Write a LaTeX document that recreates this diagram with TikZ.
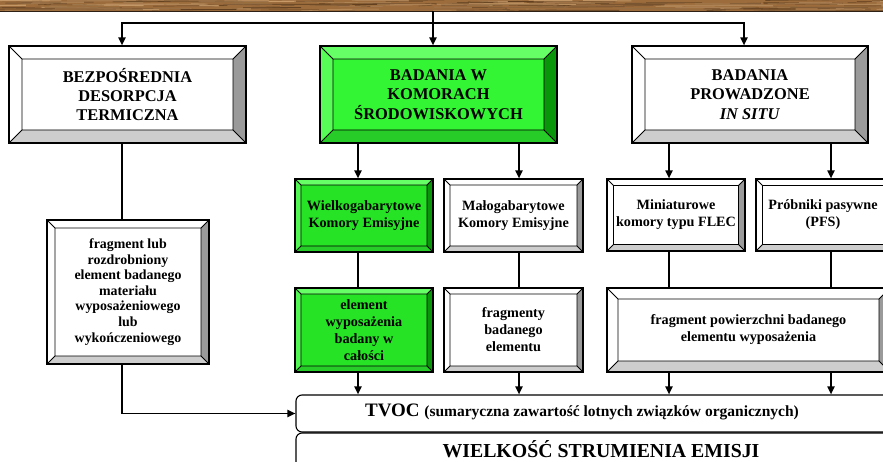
\documentclass[tikz,border=0pt]{standalone}
\usepackage{fontspec}
\setmainfont{Liberation Serif}
\usetikzlibrary{arrows.meta,calc}

\definecolor{woodbase}{HTML}{9C6C3C}
\definecolor{wooddark}{HTML}{5E3C1C}
\definecolor{woodlight}{HTML}{C99C6A}
\definecolor{woodedge}{HTML}{2E2014}
\definecolor{bevgray}{HTML}{9A9A9A}
\definecolor{bevlgray}{HTML}{CDCDCD}
\definecolor{gface}{HTML}{33F533}
\definecolor{gface2}{HTML}{26E326}
\definecolor{glight}{HTML}{66FF66}
\definecolor{gdark}{HTML}{0A960A}
\definecolor{gmid}{HTML}{28CC28}

\tikzset{
  bev depth/.store in=\bevDepth,
  bev top/.store in=\bevTop,
  bev left/.store in=\bevLeft,
  bev right/.store in=\bevRight,
  bev bottom/.store in=\bevBottom,
  bev depth=13pt, bev top=white, bev left=white, bev right=bevgray, bev bottom=bevlgray,
  bevelbox/.style={rectangle, draw=black, line width=1.1pt, inner sep=0pt, align=center,
    path picture={
      \coordinate (pa) at (path picture bounding box.north west);
      \coordinate (pb) at (path picture bounding box.north east);
      \coordinate (pc) at (path picture bounding box.south east);
      \coordinate (pd) at (path picture bounding box.south west);
      \coordinate (qa) at ($(pa)+(\bevDepth,-\bevDepth)$);
      \coordinate (qb) at ($(pb)+(-\bevDepth,-\bevDepth)$);
      \coordinate (qc) at ($(pc)+(-\bevDepth,\bevDepth)$);
      \coordinate (qd) at ($(pd)+(\bevDepth,\bevDepth)$);
      \fill[\bevTop] (pa) -- (pb) -- (qb) -- (qa) -- cycle;
      \fill[\bevLeft] (pa) -- (qa) -- (qd) -- (pd) -- cycle;
      \fill[\bevRight] (pb) -- (pc) -- (qc) -- (qb) -- cycle;
      \fill[\bevBottom] (pd) -- (qd) -- (qc) -- (pc) -- cycle;
      \draw[line width=0.9pt] (qa) rectangle (qc) (pa) -- (qa) (pb) -- (qb) (pc) -- (qc) (pd) -- (qd);
    }},
  whitebox/.style={bevelbox, fill=white, bev top=white, bev left=white, bev right=bevgray, bev bottom=bevlgray},
  greenbig/.style={bevelbox, fill=gface, bev top=glight, bev left=glight!70!gface, bev right=gdark, bev bottom=gmid},
  greensmall/.style={bevelbox, fill=gface2, bev top=glight, bev left=glight!70!gface2, bev right=gdark, bev bottom=gmid},
  bigtxt/.style={font=\fontsize{16.4}{19.4}\selectfont\bfseries},
  smalltxt/.style={font=\fontsize{14.2}{17}\selectfont\bfseries},
  tighttxt/.style={font=\fontsize{13.9}{15.6}\selectfont\bfseries},
  conn/.style={line width=1.8pt, draw=black},
  arr/.style={conn, -{Triangle[length=8pt,width=7pt]}},
  roundbox/.style={draw=black, line width=1.1pt, rounded corners=6pt, inner sep=0pt},
}

\begin{document}
\begin{tikzpicture}[x=1pt,y=-1pt]
\useasboundingbox (0,0) rectangle (883,462);
\fill[white] (0,0) rectangle (883,462);

% wooden header strip
\node[fill=woodbase, minimum width=883pt, minimum height=11pt, inner sep=0pt, anchor=north west] (banner) at (0,0) {};
\begin{scope}
  \clip (banner.south west) rectangle (banner.north east);
  \pgfmathsetseed{42}
  \foreach \k in {1,...,200}{
    \pgfmathsetmacro{\sx}{rnd*920-30}
    \pgfmathsetmacro{\sy}{rnd*11}
    \pgfmathsetmacro{\sl}{12+rnd*70}
    \pgfmathsetmacro{\sd}{rnd*1.4-0.7}
    \pgfmathsetmacro{\sw}{0.3+rnd*0.9}
    \pgfmathsetmacro{\sc}{rnd*100}
    \draw[line width=\sw pt, draw=wooddark!\sc!woodlight] (\sx,\sy) -- ++(\sl,\sd);
  }
\end{scope}
\draw[line width=1.4pt, draw=woodedge] (banner.south west) -- (banner.south east);

% main categories
\node[whitebox, bigtxt, minimum width=237pt, minimum height=97pt] (b1) at (127.5,94.5)
  {BEZPOŚREDNIA\\DESORPCJA\\TERMICZNA};
\node[greenbig, bigtxt, minimum width=237pt, minimum height=97pt] (b2) at (438.5,94.5)
  {BADANIA W\\KOMORACH\\ŚRODOWISKOWYCH};
\node[whitebox, bigtxt, minimum width=236pt, minimum height=97pt] (b3) at (750,94.5)
  {BADANIA\\PROWADZONE\\\textit{IN SITU}};

% second level
\node[whitebox, tighttxt, bev depth=8pt, minimum width=162pt, minimum height=144pt] (n4) at (128,292)
  {fragment lub\\rozdrobniony\\element badanego\\materiału\\wyposażeniowego\\lub\\wykończeniowego};
\node[greensmall, smalltxt, bev depth=6pt, minimum width=138pt, minimum height=73pt] (w1) at (364,215.5)
  {Wielkogabarytowe\\Komory Emisyjne};
\node[whitebox, smalltxt, bev depth=6pt, minimum width=139pt, minimum height=73pt] (m1) at (513.5,215.5)
  {Małogabarytowe\\Komory Emisyjne};
\node[whitebox, smalltxt, bev depth=6.5pt, minimum width=138pt, minimum height=72pt] (f1) at (676,215)
  {Miniaturowe\\komory typu FLEC};
\node[whitebox, smalltxt, bev depth=6.5pt, minimum width=134pt, minimum height=72pt] (p1) at (823,215)
  {Próbniki pasywne\\(PFS)};

% third level
\node[greensmall, smalltxt, bev depth=6pt, minimum width=138pt, minimum height=84pt] (w2) at (364,330)
  {element\\wyposażenia\\badany w\\całości};
\node[whitebox, smalltxt, bev depth=6pt, minimum width=139pt, minimum height=84pt] (m2) at (513.5,330)
  {fragmenty\\badanego\\elementu};
\node[whitebox, smalltxt, bev depth=11pt, minimum width=283pt, minimum height=84pt] (fp) at (748.5,330)
  {fragment powierzchni badanego\\elementu wyposażenia};

% result bars
\node[roundbox, minimum width=604pt, minimum height=37pt] (tvoc) at (598,413.5) {};
\node[inner sep=0pt] (tvoctext) at (582,411.5)
  {\bfseries\fontsize{19}{22}\selectfont TVOC \fontsize{15.5}{18}\selectfont(sumaryczna zawartość lotnych związków organicznych)};
\node[roundbox, minimum width=604pt, minimum height=47pt] (wse) at (598,456.5) {};
\node[inner sep=0pt] (wsetext) at (601,449.5)
  {\bfseries\fontsize{19.8}{22}\selectfont WIELKOŚĆ STRUMIENIA EMISJI};

% connector columns
\coordinate (jL) at (122,23);
\coordinate (jC) at (433,23);
\coordinate (jR) at (744,23);
\coordinate (cA) at (358,0);
\coordinate (cB) at (519,0);
\coordinate (cC) at (669,0);
\coordinate (cD) at (831,0);

% from the header
\draw[arr] (banner.south -| jC) -- (b2.north -| jC);
\draw[arr] (jC) -| (b1.north -| jL);
\draw[arr] (jC) -| (b3.north -| jR);

% thermal desorption branch
\draw[conn] (b1.south -| jL) -- (n4.north -| jL);
\draw[arr] (n4.south -| jL) |- (tvoc.west);

% chamber branch
\draw[arr] (b2.south -| cA) -- (w1.north -| cA);
\draw[arr] (b2.south -| cB) -- (m1.north -| cB);
\draw[conn] (w1.south -| cA) -- (w2.north -| cA);
\draw[conn] (m1.south -| cB) -- (m2.north -| cB);
\draw[arr] (w2.south -| cA) -- (tvoc.north -| cA);
\draw[arr] (m2.south -| cB) -- (tvoc.north -| cB);

% in situ branch
\draw[arr] (b3.south -| cC) -- (f1.north -| cC);
\draw[arr] (b3.south -| cD) -- (p1.north -| cD);
\draw[conn] (f1.south -| cC) -- (fp.north -| cC);
\draw[conn] (p1.south -| cD) -- (fp.north -| cD);
\draw[arr] (fp.south -| cC) -- (tvoc.north -| cC);
\draw[arr] (fp.south -| cD) -- (tvoc.north -| cD);
\end{tikzpicture}
\end{document}
